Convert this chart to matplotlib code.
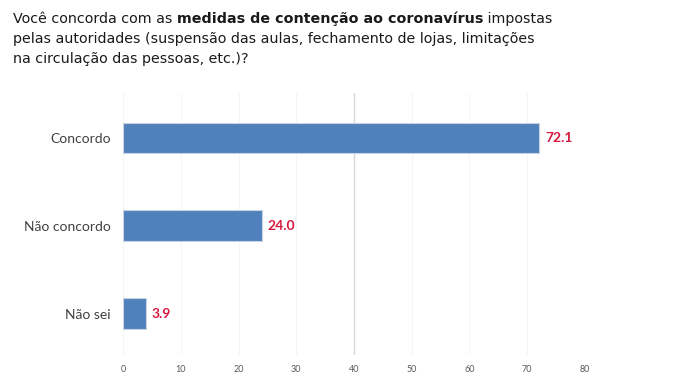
import matplotlib.pyplot as plt

categories = ['Concordo', 'Não concordo', 'Não sei']
values = [72.1, 24.0, 3.9]
xticks = [0, 10, 20, 30, 40, 50, 60, 70, 80]

title_parts = [
    ('Você concorda com as ', 'normal'),
    ('medidas de contenção ao coronavírus', 'bold'),
    (' impostas', 'normal'),
]
title_lines = [
    'pelas autoridades (suspensão das aulas, fechamento de lojas, limitações',
    'na circulação das pessoas, etc.)?',
]

plt.rcParams['font.family'] = ['Lato', 'DejaVu Sans']

fig = plt.figure(figsize=(6.8, 3.83), dpi=100)
ax = fig.add_axes([0.181, 0.073, 0.679, 0.684])

pos = range(len(categories))
ax.barh(pos, values, height=0.35, color='#4F81BD', edgecolor='#c9d3e0', linewidth=0.8, zorder=3)
for p, v in zip(pos, values):
    ax.text(v + 1.0, p, f'{v:.1f}', va='center', ha='left', fontsize=10,
            fontweight='bold', color='#D7193F')

ax.set_xlim(0, 80)
ax.set_ylim(2.47, -0.51)
ax.set_xticks(xticks)
ax.set_xticklabels([str(t) for t in xticks], fontsize=6.5, color='#595959')
ax.set_yticks(list(pos))
ax.set_yticklabels(categories, fontsize=10, color='#404040')
ax.tick_params(axis='both', length=0, pad=9)
ax.tick_params(axis='x', pad=7)
for t in xticks:
    ax.axvline(t, color='#f5f5f5', linewidth=0.8, zorder=1)
ax.axvline(40, color='#d9d9d9', linewidth=1.0, zorder=2)
for s in ax.spines.values():
    s.set_visible(False)

# title with bold middle part
fig.canvas.draw()
renderer = fig.canvas.get_renderer()
tfont = ['DejaVu Sans']
x = 13 / 680
y0 = 1 - 19 / 383
for txt, w in title_parts:
    t = fig.text(x, y0, txt, fontsize=10.3, fontweight=w, color='#1a1a1a', va='center',
                 ha='left', family=tfont)
    bb = t.get_window_extent(renderer=renderer)
    x += bb.width / fig.bbox.width
for i, line in enumerate(title_lines):
    fig.text(13 / 680, 1 - (39 + 20 * i) / 383, line, fontsize=10.3, color='#1a1a1a',
             va='center', ha='left', family=tfont)

plt.savefig('out.png', dpi=100)
